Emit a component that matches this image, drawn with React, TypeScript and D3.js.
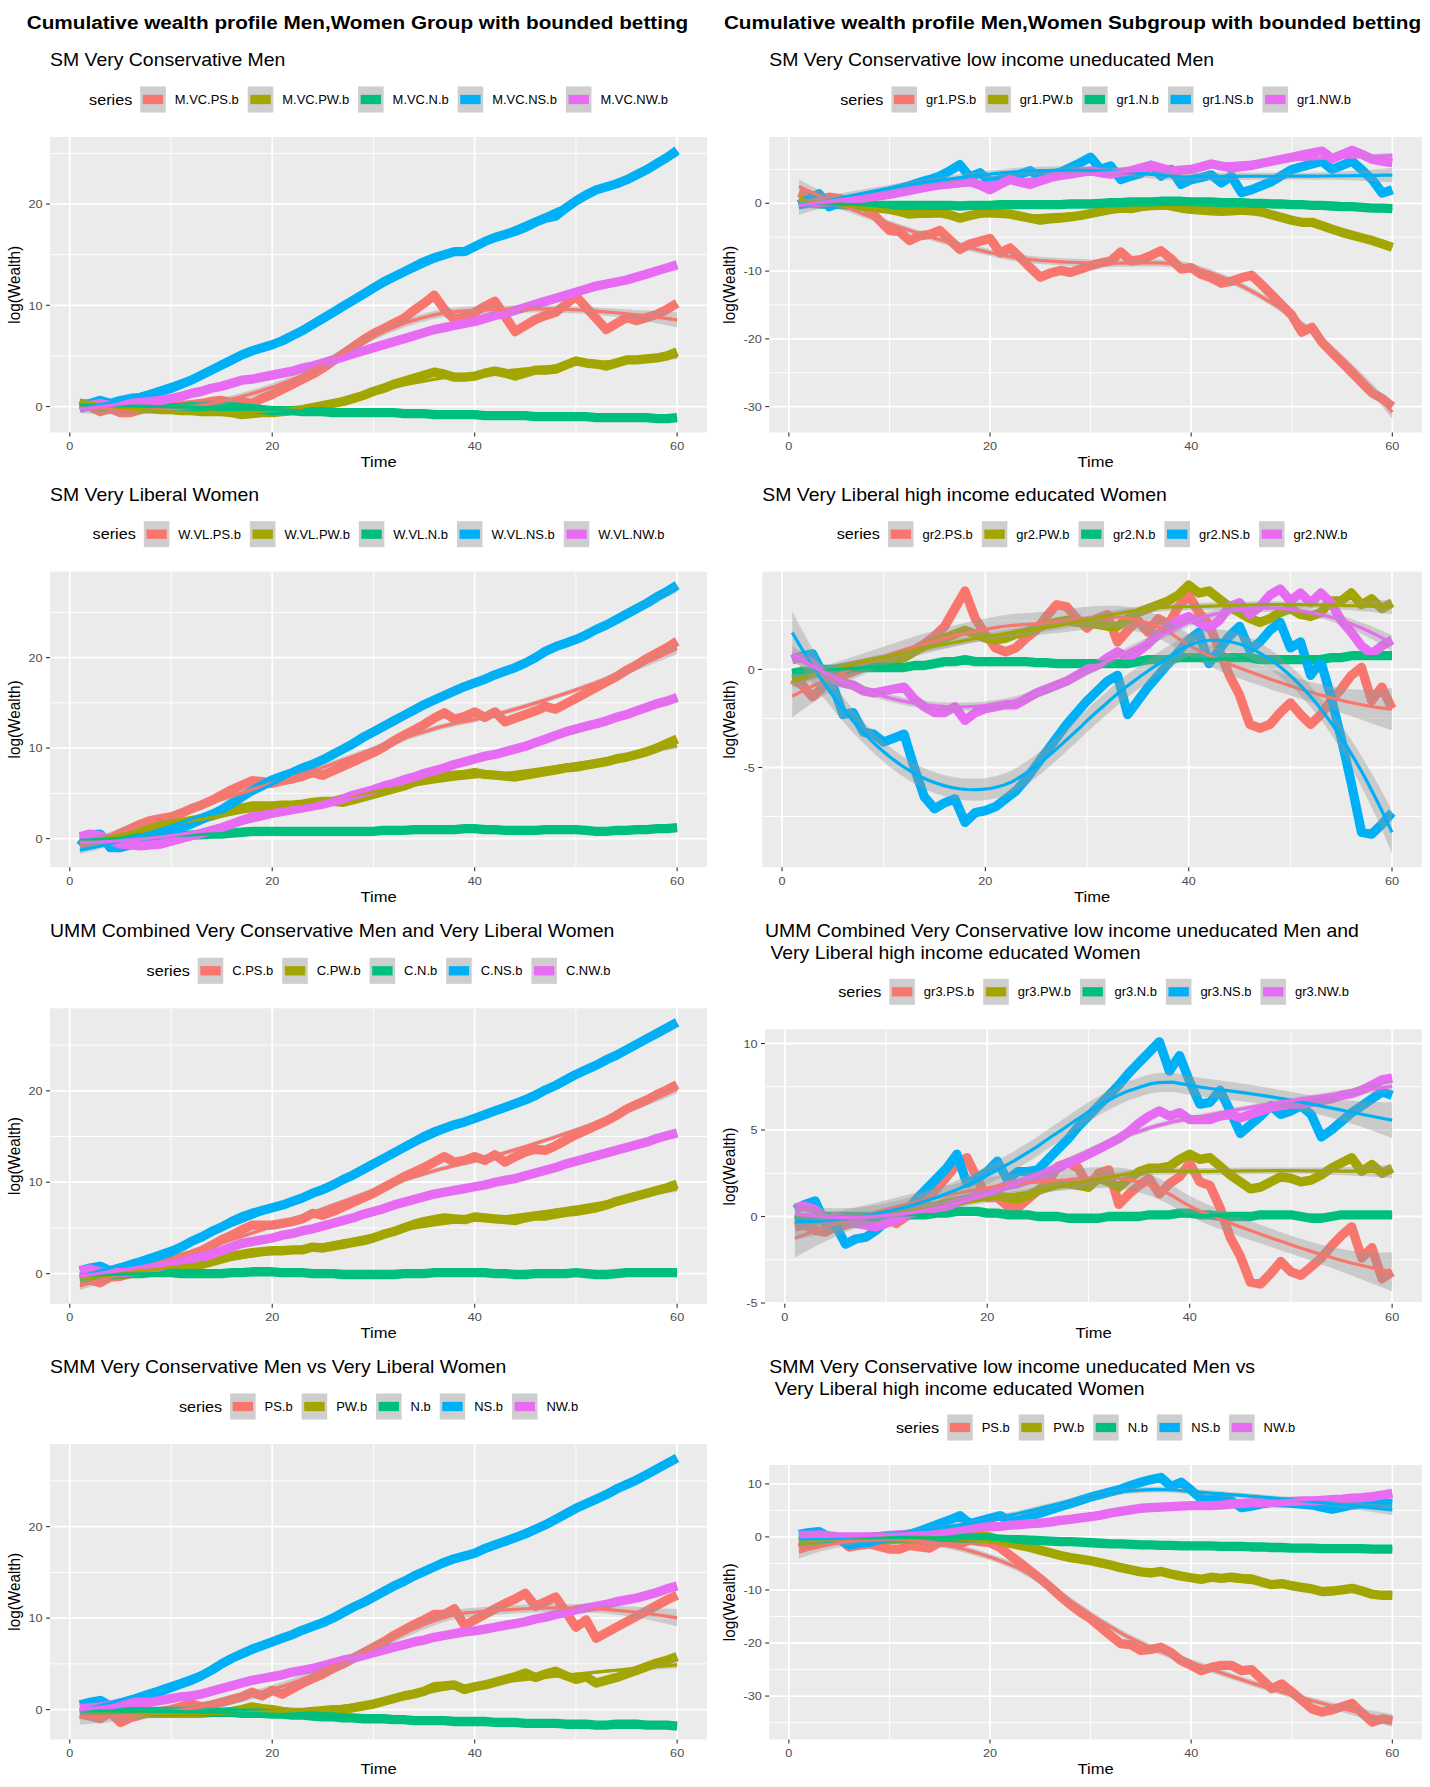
import { useEffect, useRef } from 'react';
import * as d3 from 'd3';

const W = 1430;
const H = 1787;
const FONT = '"Liberation Sans", Arial, Helvetica, sans-serif';
const SX = 1.08; // the picture is slightly stretched horizontally
const LINE_W = 9.3;

const mainTitles = [
  'Cumulative wealth profile Men,Women Group with bounded betting',
  'Cumulative wealth profile Men,Women Subgroup with bounded betting',
];

const time = d3.range(1, 61);
const seriesColors = ['#F8766D', '#A3A500', '#00BF7D', '#00B0F6', '#E76BF3'];
const xTicks = [0, 20, 40, 60];
const yTicksGrowth = [0, 10, 20];
const yTicksGr1 = [-30, -20, -10, 0];
const yTicksGr2 = [-5, 0];
const yTicksGr3 = [-5, 0, 5, 10];
const yTicksGr4 = [-30, -20, -10, 0, 10];

// SM Very Conservative Men
const mvcPS = [0.2, 0.0, -0.5, -0.2, -0.6, -0.6, -0.3, 0.0, 0.1, 0.0, 0.1, 0.2, 0.3, 0.5, 0.6, 0.4, 0.5, 0.3, 0.8, 1.2, 1.7, 2.2, 2.7, 3.2, 3.8, 4.5, 5.2, 5.9, 6.6, 7.2, 7.7, 8.2, 8.7, 9.5, 10.2, 11.0, 9.6, 8.6, 8.9, 9.3, 9.9, 10.4, 8.9, 7.4, 8.0, 8.6, 9.0, 9.3, 10.1, 10.9, 9.8, 8.7, 7.6, 8.2, 8.8, 8.5, 8.8, 9.1, 9.6, 10.2];
const mvcPW = [0.3, 0.2, 0.0, 0.0, -0.1, -0.1, -0.2, -0.2, -0.3, -0.3, -0.4, -0.4, -0.5, -0.5, -0.5, -0.6, -0.8, -0.7, -0.6, -0.6, -0.5, -0.4, -0.3, -0.1, 0.1, 0.3, 0.5, 0.8, 1.1, 1.5, 1.8, 2.2, 2.5, 2.8, 3.1, 3.4, 3.2, 2.9, 2.9, 3.0, 3.3, 3.5, 3.3, 3.0, 3.3, 3.6, 3.6, 3.7, 4.1, 4.5, 4.3, 4.2, 4.0, 4.3, 4.6, 4.6, 4.7, 4.8, 5.0, 5.4];
const mvcN = [0.2, 0.2, 0.1, 0.1, 0.0, 0.0, 0.0, -0.1, -0.1, -0.1, -0.1, 0.0, 0.0, 0.1, 0.0, 0.0, -0.1, -0.2, -0.3, -0.4, -0.4, -0.4, -0.5, -0.5, -0.5, -0.6, -0.6, -0.6, -0.6, -0.6, -0.6, -0.6, -0.7, -0.7, -0.7, -0.8, -0.8, -0.8, -0.8, -0.8, -0.9, -0.9, -0.9, -0.9, -0.9, -1.0, -1.0, -1.0, -1.0, -1.0, -1.0, -1.1, -1.1, -1.1, -1.1, -1.1, -1.1, -1.2, -1.2, -1.1];
const mvcNS = [0.0, 0.3, 0.6, 0.3, 0.6, 0.8, 0.9, 1.2, 1.5, 1.8, 2.2, 2.6, 3.1, 3.6, 4.1, 4.6, 5.1, 5.5, 5.8, 6.1, 6.5, 7.0, 7.5, 8.1, 8.7, 9.3, 9.9, 10.5, 11.1, 11.7, 12.3, 12.8, 13.3, 13.8, 14.3, 14.7, 15.0, 15.3, 15.3, 15.8, 16.3, 16.7, 17.0, 17.3, 17.7, 18.2, 18.6, 18.8, 19.6, 20.3, 20.9, 21.4, 21.7, 22.0, 22.4, 22.9, 23.4, 24.0, 24.6, 25.3];
const mvcNW = [-0.2, 0.1, 0.3, 0.1, 0.1, 0.3, 0.4, 0.5, 0.6, 0.8, 1.0, 1.3, 1.5, 1.8, 2.0, 2.3, 2.6, 2.7, 2.9, 3.1, 3.3, 3.5, 3.8, 4.0, 4.3, 4.6, 4.9, 5.2, 5.5, 5.8, 6.1, 6.4, 6.7, 7.0, 7.3, 7.6, 7.8, 8.0, 8.2, 8.4, 8.7, 9.0, 9.2, 9.5, 9.8, 10.1, 10.4, 10.7, 11.0, 11.3, 11.6, 11.9, 12.1, 12.3, 12.5, 12.8, 13.1, 13.4, 13.7, 14.0];

// SM Very Conservative low income uneducated Men
const gr1PS = [1.6, 1.0, 0.5, 0.9, 0.7, 0.3, 0.0, -1.0, -2.5, -4.0, -4.2, -5.5, -4.8, -4.6, -4.0, -5.4, -6.8, -6.0, -5.6, -5.2, -7.3, -6.6, -8.0, -9.5, -10.9, -10.3, -9.9, -10.2, -9.7, -9.2, -8.8, -8.5, -7.2, -8.5, -8.3, -7.7, -7.0, -8.2, -9.7, -9.5, -10.5, -11.0, -11.8, -11.5, -11.0, -10.6, -12.0, -13.5, -15.0, -16.5, -19.0, -18.3, -20.5, -22.0, -23.5, -25.0, -26.5, -28.0, -28.8, -30.0];
const gr1PW = [0.4, 0.2, 0.1, 0.0, -0.2, -0.3, -0.4, -0.5, -0.7, -0.9, -1.2, -1.6, -1.5, -1.5, -1.4, -1.7, -2.2, -1.8, -1.5, -1.3, -1.5, -1.6, -1.9, -2.2, -2.5, -2.3, -2.2, -2.0, -1.8, -1.5, -1.2, -0.9, -0.7, -0.8, -0.5, -0.3, -0.1, -0.4, -0.7, -0.9, -1.0, -1.1, -1.2, -1.1, -1.0, -1.1, -1.3, -1.7, -2.1, -2.5, -2.8, -2.8, -3.3, -3.8, -4.3, -4.7, -5.1, -5.5, -6.0, -6.5];
const gr1N = [0.0, 0.0, -0.1, -0.1, -0.1, -0.2, -0.2, -0.2, -0.3, -0.3, -0.3, -0.3, -0.3, -0.3, -0.3, -0.3, -0.4, -0.3, -0.3, -0.3, -0.2, -0.2, -0.2, -0.2, -0.2, -0.2, -0.2, -0.1, -0.1, -0.1, 0.0, 0.1, 0.1, 0.2, 0.2, 0.2, 0.3, 0.3, 0.3, 0.2, 0.2, 0.2, 0.1, 0.1, 0.1, 0.0, 0.0, -0.1, -0.1, -0.2, -0.2, -0.3, -0.3, -0.4, -0.5, -0.5, -0.6, -0.7, -0.7, -0.8];
const gr1NS = [-0.2, 0.6, 1.4, -0.5, 0.0, 0.4, 0.7, 1.1, 1.4, 1.8, 2.2, 2.6, 3.1, 3.5, 4.0, 4.8, 5.7, 3.9, 4.5, 3.2, 3.5, 3.8, 4.3, 4.8, 3.9, 4.2, 4.6, 5.3, 6.0, 6.8, 5.0, 5.5, 3.5, 4.0, 4.4, 5.6, 4.0, 5.0, 2.8, 3.5, 3.8, 4.2, 3.0, 4.0, 1.6, 2.0, 2.6, 3.2, 4.1, 5.0, 5.4, 5.8, 6.2, 5.0, 5.6, 6.2, 4.9, 3.5, 1.5, 2.0];
const gr1NW = [-0.2, 0.0, 0.1, 0.2, 0.3, 0.5, 0.7, 0.9, 1.1, 1.3, 1.6, 1.9, 2.2, 2.5, 2.8, 2.9, 3.1, 3.2, 2.7, 2.0, 2.8, 3.5, 3.1, 2.8, 3.3, 3.8, 4.1, 4.3, 4.6, 4.8, 4.5, 4.3, 4.6, 4.8, 5.2, 5.6, 5.2, 4.8, 4.9, 5.0, 5.4, 5.8, 5.5, 5.2, 5.4, 5.6, 5.9, 6.2, 6.5, 6.8, 7.1, 7.4, 7.7, 6.6, 7.2, 7.8, 7.2, 6.5, 6.2, 6.0];

// SM Very Liberal Women
const wvlPS = [-0.6, -0.5, -0.5, 0.0, 0.6, 1.1, 1.6, 2.0, 2.2, 2.4, 2.8, 3.3, 3.7, 4.2, 4.8, 5.4, 5.9, 6.4, 6.3, 6.1, 6.4, 6.6, 6.9, 7.3, 7.0, 7.5, 8.0, 8.5, 9.0, 9.5, 10.1, 10.8, 11.4, 12.0, 12.6, 13.3, 13.9, 13.2, 13.5, 14.0, 13.4, 14.0, 12.9, 13.3, 13.7, 14.1, 14.6, 14.3, 14.9, 15.5, 16.1, 16.7, 17.3, 17.9, 18.6, 19.2, 19.9, 20.5, 21.1, 21.8];
const wvlPW = [-0.3, -0.2, -0.2, -0.1, 0.0, 0.4, 0.8, 1.2, 1.4, 1.6, 1.8, 2.0, 2.2, 2.5, 2.8, 3.1, 3.4, 3.6, 3.6, 3.6, 3.7, 3.7, 3.8, 4.0, 4.1, 4.1, 4.0, 4.3, 4.6, 4.9, 5.2, 5.5, 5.8, 6.2, 6.6, 6.8, 6.9, 7.0, 7.1, 7.3, 7.1, 7.0, 6.9, 6.8, 7.0, 7.2, 7.4, 7.6, 7.8, 7.9, 8.1, 8.3, 8.5, 8.8, 9.0, 9.3, 9.6, 10.0, 10.5, 11.0];
const wvlN = [-0.2, -0.1, -0.1, 0.0, 0.0, 0.1, 0.1, 0.2, 0.2, 0.3, 0.3, 0.4, 0.4, 0.5, 0.5, 0.6, 0.7, 0.8, 0.8, 0.8, 0.8, 0.8, 0.8, 0.8, 0.8, 0.8, 0.8, 0.8, 0.8, 0.8, 0.9, 0.9, 0.9, 1.0, 1.0, 1.0, 1.0, 1.0, 1.1, 1.1, 1.0, 1.0, 0.9, 0.9, 0.9, 0.9, 1.0, 1.0, 1.0, 1.0, 0.9, 0.8, 0.8, 0.9, 0.9, 1.0, 1.0, 1.1, 1.1, 1.2];
const wvlNS = [-0.8, 0.4, 0.5, -1.0, -1.0, -0.7, -0.3, 0.1, 0.4, 0.8, 1.2, 1.6, 2.1, 2.6, 3.2, 3.9, 4.6, 5.3, 5.9, 6.5, 6.9, 7.3, 7.8, 8.2, 8.7, 9.3, 9.9, 10.5, 11.2, 11.8, 12.4, 13.0, 13.6, 14.2, 14.8, 15.3, 15.8, 16.3, 16.8, 17.2, 17.6, 18.1, 18.5, 18.9, 19.4, 20.0, 20.7, 21.2, 21.6, 22.0, 22.5, 23.1, 23.6, 24.2, 24.8, 25.4, 26.0, 26.7, 27.3, 28.0];
const wvlNW = [0.2, 0.5, 0.3, -0.2, -0.6, -0.7, -0.8, -0.7, -0.6, -0.3, 0.0, 0.3, 0.6, 0.9, 1.2, 1.6, 2.0, 2.4, 2.6, 2.8, 3.0, 3.2, 3.4, 3.6, 3.8, 4.1, 4.4, 4.8, 5.1, 5.4, 5.8, 6.1, 6.5, 6.8, 7.2, 7.5, 7.8, 8.2, 8.5, 8.8, 9.1, 9.3, 9.6, 9.9, 10.2, 10.6, 11.0, 11.4, 11.8, 12.1, 12.4, 12.7, 13.0, 13.4, 13.7, 14.1, 14.5, 14.9, 15.2, 15.6];

// SM Very Liberal high income educated Women
const gr2PS = [-0.5, -0.8, -1.4, -0.9, -0.5, -0.3, -0.1, 0.1, 0.2, 0.3, 0.5, 0.7, 1.0, 1.3, 1.7, 2.2, 3.1, 4.0, 2.6, 1.8, 1.1, 0.9, 1.1, 1.6, 2.0, 2.7, 3.3, 3.2, 2.6, 2.1, 2.6, 2.8, 1.4, 2.0, 2.5, 1.9, 2.6, 2.3, 3.2, 3.8, 2.9, 2.3, 1.0, -0.3, -1.3, -2.8, -3.0, -2.8, -2.2, -1.7, -2.3, -2.8, -2.3, -1.6, -1.0, -0.3, 0.1, -1.6, -0.9, -2.0];
const gr2PW = [-0.5, -0.4, -0.2, -0.1, 0.0, 0.1, 0.2, 0.3, 0.4, 0.5, 0.5, 0.6, 0.9, 1.2, 1.4, 1.6, 1.8, 2.0, 1.8, 1.6, 1.5, 1.6, 1.8, 1.9, 2.1, 2.3, 2.4, 2.5, 2.4, 2.4, 2.3, 2.2, 2.2, 2.6, 2.9, 3.1, 3.3, 3.5, 3.8, 4.3, 3.9, 4.0, 3.6, 3.2, 2.9, 2.6, 2.4, 2.6, 2.9, 3.1, 2.8, 2.7, 2.9, 3.5, 3.5, 3.9, 3.3, 3.6, 3.1, 3.4];
const gr2N = [-0.2, -0.1, -0.1, 0.0, 0.0, 0.0, 0.1, 0.1, 0.1, 0.1, 0.1, 0.1, 0.2, 0.2, 0.3, 0.4, 0.4, 0.5, 0.4, 0.4, 0.4, 0.4, 0.4, 0.4, 0.35, 0.35, 0.3, 0.3, 0.3, 0.3, 0.3, 0.3, 0.3, 0.3, 0.4, 0.5, 0.5, 0.5, 0.6, 0.6, 0.6, 0.6, 0.6, 0.6, 0.6, 0.6, 0.5, 0.5, 0.5, 0.5, 0.5, 0.5, 0.5, 0.6, 0.6, 0.7, 0.7, 0.7, 0.7, 0.7];
const gr2NS = [0.5, 0.7, 0.8, -0.2, -0.8, -2.3, -2.2, -3.2, -3.3, -3.7, -3.5, -3.3, -5.0, -6.5, -7.1, -6.8, -6.6, -7.8, -7.3, -7.2, -7.0, -6.6, -6.2, -5.6, -4.9, -4.2, -3.5, -2.8, -2.2, -1.6, -1.1, -0.6, -0.3, -2.3, -1.6, -0.9, -0.3, 0.3, 0.9, 1.5, 1.9, 0.3, 1.0, 1.7, 2.2, 1.0, 1.4, 2.0, 2.4, 1.1, 1.4, -0.3, 0.4, -1.4, -3.5, -5.8, -8.3, -8.4, -7.9, -7.3];
const gr2NW = [0.5, 0.6, 0.3, -0.2, -0.5, -0.7, -0.8, -1.1, -1.2, -1.1, -1.0, -0.9, -1.5, -1.9, -2.2, -2.2, -1.9, -2.6, -2.2, -2.0, -1.9, -1.8, -1.8, -1.5, -1.2, -1.0, -0.8, -0.6, -0.3, 0.0, 0.2, 0.6, 0.9, 0.6, 0.9, 1.3, 1.8, 2.2, 2.5, 2.7, 2.4, 2.1, 2.5, 3.2, 3.4, 2.8, 3.2, 3.8, 4.1, 3.5, 3.9, 3.4, 3.9, 3.4, 2.5, 1.9, 1.2, 0.8, 1.2, 1.5];

// UMM Combined Very Conservative Men and Very Liberal Women
const cPS = [-0.8, -0.7, -1.0, -0.4, -0.3, 0.0, 0.4, 0.7, 1.0, 1.4, 1.8, 2.1, 2.5, 3.1, 3.7, 4.2, 4.8, 5.3, 5.3, 5.3, 5.5, 5.7, 6.0, 6.6, 6.4, 6.8, 7.3, 7.8, 8.3, 8.8, 9.4, 10.0, 10.6, 11.1, 11.6, 12.2, 12.8, 12.2, 12.4, 12.8, 12.4, 13.0, 12.2, 12.8, 13.3, 13.6, 13.5, 14.0, 14.6, 15.2, 15.7, 16.2, 16.7, 17.3, 18.0, 18.5, 19.0, 19.6, 20.1, 20.7];
const cPW = [-0.5, -0.4, -0.3, -0.2, -0.1, 0.0, 0.2, 0.3, 0.5, 0.6, 0.7, 0.9, 1.0, 1.3, 1.6, 1.9, 2.1, 2.3, 2.4, 2.5, 2.5, 2.6, 2.6, 2.9, 2.8, 3.0, 3.2, 3.4, 3.6, 3.9, 4.3, 4.6, 5.0, 5.4, 5.7, 5.9, 6.1, 6.0, 5.9, 6.2, 6.1, 6.0, 5.9, 5.8, 6.1, 6.3, 6.3, 6.5, 6.7, 6.8, 7.0, 7.2, 7.5, 7.9, 8.2, 8.5, 8.8, 9.1, 9.4, 9.8];
const cN = [-0.3, -0.2, -0.2, -0.1, 0.0, 0.0, 0.0, 0.1, 0.1, 0.1, 0.0, 0.0, 0.0, 0.0, 0.0, 0.1, 0.1, 0.2, 0.2, 0.2, 0.1, 0.1, 0.1, 0.0, 0.0, 0.0, -0.1, -0.1, -0.1, -0.1, -0.1, -0.1, 0.0, 0.0, 0.0, 0.1, 0.1, 0.1, 0.1, 0.1, 0.1, 0.0, 0.0, -0.1, -0.1, 0.0, 0.0, 0.0, 0.0, 0.1, 0.0, -0.1, -0.1, 0.0, 0.1, 0.1, 0.1, 0.1, 0.1, 0.1];
const cNS = [0.3, 0.6, 0.8, 0.3, 0.6, 0.8, 1.1, 1.5, 1.9, 2.4, 2.9, 3.5, 4.0, 4.6, 5.1, 5.7, 6.2, 6.6, 6.9, 7.2, 7.5, 7.9, 8.3, 8.8, 9.2, 9.7, 10.3, 10.8, 11.4, 12.0, 12.6, 13.2, 13.8, 14.4, 15.0, 15.5, 15.9, 16.3, 16.6, 17.0, 17.4, 17.8, 18.2, 18.6, 19.0, 19.5, 20.1, 20.6, 21.2, 21.8, 22.3, 22.8, 23.4, 23.9, 24.5, 25.1, 25.7, 26.3, 26.9, 27.5];
const cNW = [0.3, 0.5, 0.2, 0.1, 0.1, 0.2, 0.3, 0.5, 0.8, 1.1, 1.3, 1.6, 1.8, 2.1, 2.5, 2.9, 3.3, 3.5, 3.7, 3.9, 4.2, 4.4, 4.7, 4.9, 5.2, 5.5, 5.8, 6.1, 6.5, 6.8, 7.1, 7.5, 7.8, 8.1, 8.4, 8.7, 8.9, 9.1, 9.3, 9.5, 9.7, 10.0, 10.2, 10.4, 10.7, 11.0, 11.3, 11.6, 12.0, 12.3, 12.6, 12.9, 13.2, 13.5, 13.8, 14.1, 14.4, 14.8, 15.1, 15.4];

// UMM Combined subgroups
const gr3PS = [-0.6, -0.5, -0.8, -0.9, -0.6, -0.5, -0.3, -0.2, -0.1, -0.1, -0.4, 0.0, 0.5, 1.0, 1.6, 2.3, 3.0, 3.4, 2.2, 1.1, 1.1, 0.6, 0.5, 1.0, 1.5, 2.0, 2.9, 3.1, 2.8, 1.7, 2.5, 2.7, 0.7, 1.3, 1.8, 2.2, 1.3, 1.9, 2.3, 3.1, 2.0, 1.8, 0.5, -1.2, -2.3, -3.8, -3.9, -3.3, -2.6, -3.2, -3.4, -2.9, -2.4, -1.7, -1.1, -0.6, -2.4, -1.8, -3.6, -3.2];
const gr3PW = [-0.1, -0.1, -0.2, -0.2, -0.2, -0.2, -0.1, -0.1, -0.1, -0.1, 0.0, 0.1, 0.3, 0.5, 0.6, 0.8, 0.9, 1.0, 1.2, 1.3, 1.2, 1.1, 1.0, 1.2, 1.5, 1.7, 1.9, 1.9, 1.8, 1.7, 2.2, 2.0, 1.7, 2.2, 2.6, 2.8, 2.8, 2.9, 3.3, 3.6, 3.3, 3.4, 2.9, 2.4, 2.0, 1.6, 1.7, 2.0, 2.3, 2.2, 2.0, 2.1, 2.4, 2.8, 3.1, 3.4, 2.6, 3.0, 2.5, 2.8];
const gr3N = [-0.2, -0.1, -0.1, 0.0, 0.0, 0.0, 0.0, 0.0, 0.0, 0.0, 0.0, 0.1, 0.1, 0.1, 0.2, 0.2, 0.3, 0.3, 0.3, 0.2, 0.2, 0.1, 0.1, 0.1, 0.0, 0.0, 0.0, -0.1, -0.1, -0.1, -0.1, 0.0, 0.0, 0.0, 0.0, 0.1, 0.1, 0.1, 0.2, 0.2, 0.1, 0.1, 0.0, 0.0, 0.0, 0.0, 0.1, 0.1, 0.1, 0.1, 0.0, -0.1, -0.1, 0.0, 0.1, 0.1, 0.1, 0.1, 0.1, 0.1];
const gr3NS = [0.4, 0.7, 0.9, -0.4, -0.5, -1.6, -1.3, -1.2, -0.8, -0.3, 0.0, 0.3, 1.0, 1.6, 2.2, 2.8, 3.6, 1.9, 2.2, 2.6, 3.2, 2.1, 2.6, 2.6, 2.7, 3.3, 3.9, 4.5, 5.2, 5.8, 6.4, 7.0, 7.6, 8.3, 8.9, 9.5, 10.1, 8.4, 9.3, 7.8, 6.5, 6.6, 7.3, 6.1, 4.8, 5.3, 5.8, 6.4, 5.9, 6.1, 6.4, 5.9, 4.6, 5.0, 5.5, 6.0, 6.4, 6.8, 7.2, 7.0];
const gr3NW = [0.5, 0.6, 0.4, -0.2, 0.0, -0.2, -0.4, -0.5, -0.6, -0.4, -0.2, 0.1, 0.3, 0.4, 0.5, 0.6, 0.8, 1.0, 1.2, 1.4, 1.6, 1.8, 1.9, 2.1, 2.3, 2.5, 2.8, 3.1, 3.3, 3.6, 3.9, 4.2, 4.5, 4.9, 5.4, 5.8, 6.1, 5.8, 6.0, 5.6, 5.6, 5.6, 5.8, 5.9, 5.7, 5.9, 6.1, 6.3, 6.4, 6.5, 6.5, 6.6, 6.7, 6.8, 7.0, 7.1, 7.3, 7.6, 7.9, 8.0];

// SMM Very Conservative Men vs Very Liberal Women
const smmPS = [-0.5, -0.7, -1.0, -0.3, -1.4, -0.9, -0.6, -0.3, -0.2, 0.0, 0.3, 0.6, 0.3, 0.5, 0.8, 1.1, 1.4, 1.9, 1.5, 2.1, 1.7, 2.3, 2.9, 3.4, 3.9, 4.5, 5.0, 5.6, 6.2, 6.8, 7.4, 8.1, 8.7, 9.3, 9.8, 10.4, 10.4, 11.0, 9.2, 9.8, 10.4, 11.0, 11.6, 12.1, 12.7, 11.3, 11.8, 12.3, 10.7, 9.0, 9.8, 7.8, 8.4, 9.0, 9.6, 10.2, 10.8, 11.4, 12.0, 12.5];
const smmPW = [-0.3, -0.3, -0.2, -0.2, -0.2, -0.3, -0.3, -0.4, -0.4, -0.4, -0.4, -0.4, -0.4, -0.3, -0.3, -0.2, 0.0, 0.3, 0.1, 0.0, -0.2, -0.3, -0.3, -0.2, -0.1, 0.0, 0.0, 0.2, 0.4, 0.6, 0.9, 1.2, 1.5, 1.7, 2.0, 2.5, 2.6, 2.7, 2.2, 2.5, 2.7, 3.0, 3.3, 3.6, 4.0, 3.5, 3.9, 4.2, 3.7, 3.3, 3.6, 2.9, 3.2, 3.5, 3.9, 4.3, 4.7, 5.1, 5.4, 5.8];
const smmN = [-0.3, -0.2, -0.2, -0.1, -0.1, -0.1, -0.1, -0.2, -0.2, -0.2, -0.2, -0.2, -0.2, -0.3, -0.3, -0.3, -0.4, -0.4, -0.4, -0.5, -0.5, -0.6, -0.6, -0.7, -0.8, -0.8, -0.9, -0.9, -1.0, -1.0, -1.0, -1.1, -1.1, -1.2, -1.2, -1.2, -1.2, -1.3, -1.3, -1.3, -1.3, -1.4, -1.4, -1.4, -1.5, -1.5, -1.5, -1.5, -1.6, -1.6, -1.6, -1.7, -1.7, -1.6, -1.6, -1.6, -1.7, -1.7, -1.7, -1.8];
const smmNS = [0.5, 0.8, 1.0, 0.4, 0.7, 1.0, 1.3, 1.7, 2.0, 2.4, 2.8, 3.2, 3.7, 4.3, 5.0, 5.6, 6.1, 6.6, 7.0, 7.4, 7.8, 8.2, 8.7, 9.1, 9.5, 10.0, 10.6, 11.2, 11.7, 12.3, 12.9, 13.5, 14.0, 14.6, 15.1, 15.6, 16.1, 16.5, 16.8, 17.1, 17.6, 18.0, 18.4, 18.8, 19.2, 19.7, 20.2, 20.8, 21.4, 22.0, 22.5, 23.0, 23.5, 24.1, 24.6, 25.1, 25.7, 26.3, 26.9, 27.5];
const smmNW = [0.1, 0.2, 0.3, 0.5, 0.7, 0.8, 0.8, 0.8, 1.0, 1.2, 1.4, 1.5, 1.7, 2.0, 2.3, 2.6, 2.9, 3.2, 3.4, 3.6, 3.8, 4.1, 4.3, 4.5, 4.8, 5.1, 5.4, 5.6, 5.9, 6.2, 6.5, 6.8, 7.1, 7.4, 7.6, 7.9, 8.1, 8.3, 8.5, 8.6, 8.8, 9.0, 9.2, 9.4, 9.6, 9.9, 10.1, 10.4, 10.6, 10.9, 11.1, 11.3, 11.5, 11.8, 12.0, 12.2, 12.5, 12.8, 13.2, 13.5];

// SMM subgroups
const smmsPS = [-2.1, -1.5, -1.0, -0.6, -0.3, -1.9, -1.6, -1.3, -1.8, -2.3, -2.3, -1.6, -1.9, -2.1, -1.0, -1.1, -1.3, -0.6, -0.9, -1.1, -2.0, -3.5, -4.9, -6.4, -7.9, -9.5, -11.2, -12.8, -14.2, -15.4, -17.0, -18.6, -20.1, -20.3, -21.4, -21.2, -20.8, -21.8, -23.3, -24.2, -25.2, -24.6, -24.2, -24.2, -25.2, -25.0, -26.8, -28.6, -27.7, -29.2, -30.8, -32.4, -33.0, -32.6, -32.0, -31.4, -33.2, -34.9, -34.3, -34.6];
const smmsPW = [-0.8, -0.7, -0.6, -0.4, -0.3, -0.3, -0.4, -0.5, -0.5, -0.5, -0.4, -0.4, -0.3, -0.3, -0.2, 0.0, 0.2, 0.4, 0.2, 0.0, -0.6, -1.2, -1.6, -2.0, -2.5, -3.0, -3.5, -3.9, -4.2, -4.5, -4.9, -5.3, -5.8, -6.2, -6.6, -6.8, -6.5, -7.0, -7.4, -7.7, -8.0, -7.6, -7.8, -7.6, -7.8, -7.9, -8.5, -9.0, -8.8, -9.2, -9.5, -9.8, -10.3, -10.2, -10.0, -9.7, -10.2, -10.8, -11.0, -11.0];
const smmsN = [-0.5, -0.4, -0.3, -0.3, -0.2, -0.2, -0.2, -0.2, -0.2, -0.2, -0.2, -0.1, -0.1, -0.1, -0.1, -0.1, -0.2, -0.2, -0.2, -0.3, -0.4, -0.5, -0.5, -0.6, -0.7, -0.8, -0.9, -0.9, -1.0, -1.1, -1.2, -1.3, -1.3, -1.4, -1.5, -1.5, -1.6, -1.6, -1.7, -1.7, -1.7, -1.7, -1.8, -1.8, -1.8, -1.9, -1.9, -2.0, -2.0, -2.1, -2.1, -2.1, -2.2, -2.2, -2.2, -2.2, -2.2, -2.3, -2.3, -2.3];
const smmsNS = [0.5, 0.8, 1.0, 0.0, -0.5, -1.5, -1.2, -1.0, -0.5, 0.0, 0.2, 0.5, 1.1, 1.8, 2.5, 3.2, 4.0, 2.5, 3.0, 3.5, 4.0, 3.0, 3.2, 3.9, 4.5, 5.1, 5.7, 6.3, 6.9, 7.5, 8.0, 8.5, 9.0, 9.7, 10.3, 10.8, 11.2, 9.5, 10.3, 8.8, 7.2, 7.0, 7.6, 6.8, 5.5, 5.8, 6.2, 6.5, 6.4, 6.3, 6.2, 6.0, 5.6, 5.2, 5.6, 6.0, 6.3, 6.5, 6.4, 6.3];
const smmsNW = [0.3, 0.3, 0.4, 0.2, 0.0, 0.0, 0.0, 0.0, 0.1, 0.3, 0.4, 0.5, 0.6, 0.8, 1.0, 1.2, 1.4, 1.6, 1.8, 1.9, 2.0, 2.2, 2.3, 2.5, 2.6, 2.8, 3.1, 3.3, 3.6, 3.8, 4.1, 4.5, 4.8, 5.1, 5.4, 5.5, 5.6, 5.7, 5.8, 5.9, 5.9, 5.9, 6.0, 6.2, 6.3, 6.4, 6.4, 6.5, 6.6, 6.7, 6.8, 6.8, 6.9, 7.0, 7.1, 7.3, 7.4, 7.6, 7.9, 8.2];

const panels = [
  { col: 0, row: 0, title: ['SM Very Conservative Men'], labels: ['M.VC.PS.b', 'M.VC.PW.b', 'M.VC.N.b', 'M.VC.NS.b', 'M.VC.NW.b'], series: [mvcPS, mvcPW, mvcN, mvcNS, mvcNW], yTicks: yTicksGrowth },
  { col: 1, row: 0, title: ['SM Very Conservative low income uneducated Men'], labels: ['gr1.PS.b', 'gr1.PW.b', 'gr1.N.b', 'gr1.NS.b', 'gr1.NW.b'], series: [gr1PS, gr1PW, gr1N, gr1NS, gr1NW], yTicks: yTicksGr1 },
  { col: 0, row: 1, title: ['SM Very Liberal Women'], labels: ['W.VL.PS.b', 'W.VL.PW.b', 'W.VL.N.b', 'W.VL.NS.b', 'W.VL.NW.b'], series: [wvlPS, wvlPW, wvlN, wvlNS, wvlNW], yTicks: yTicksGrowth },
  { col: 1, row: 1, title: ['SM Very Liberal high income educated Women'], labels: ['gr2.PS.b', 'gr2.PW.b', 'gr2.N.b', 'gr2.NS.b', 'gr2.NW.b'], series: [gr2PS, gr2PW, gr2N, gr2NS, gr2NW], yTicks: yTicksGr2 },
  { col: 0, row: 2, title: ['UMM Combined Very Conservative Men and Very Liberal Women'], labels: ['C.PS.b', 'C.PW.b', 'C.N.b', 'C.NS.b', 'C.NW.b'], series: [cPS, cPW, cN, cNS, cNW], yTicks: yTicksGrowth },
  { col: 1, row: 2, title: ['UMM Combined Very Conservative low income uneducated Men and', ' Very Liberal high income educated Women'], labels: ['gr3.PS.b', 'gr3.PW.b', 'gr3.N.b', 'gr3.NS.b', 'gr3.NW.b'], series: [gr3PS, gr3PW, gr3N, gr3NS, gr3NW], yTicks: yTicksGr3 },
  { col: 0, row: 3, title: ['SMM Very Conservative Men vs Very Liberal Women'], labels: ['PS.b', 'PW.b', 'N.b', 'NS.b', 'NW.b'], series: [smmPS, smmPW, smmN, smmNS, smmNW], yTicks: yTicksGrowth },
  { col: 1, row: 3, title: ['SMM Very Conservative low income uneducated Men vs', ' Very Liberal high income educated Women'], labels: ['PS.b', 'PW.b', 'N.b', 'NS.b', 'NW.b'], series: [smmsPS, smmsPW, smmsN, smmsNS, smmsNW], yTicks: yTicksGr4 },
];

const rowTops = [137, 571.7, 1008.3, 1444];

// local quadratic regression (loess, span 0.75) with a standard-error band, like geom_smooth
function loess(xs: number[], ys: number[], grid: number[], span = 0.75) {
  const n = xs.length;
  const q = Math.floor(n * span);
  const rowAt = (x0: number) => {
    const d = xs.map((x) => Math.abs(x - x0));
    const h = d.slice().sort((a, b) => a - b)[q - 1] * 1.0001;
    const w = d.map((di) => (di < h ? Math.pow(1 - Math.pow(di / h, 3), 3) : 0));
    const u = xs.map((x) => (x - x0) / h);
    let s0 = 0, s1 = 0, s2 = 0, s3 = 0, s4 = 0;
    w.forEach((wi, i) => {
      const ui = u[i];
      s0 += wi; s1 += wi * ui; s2 += wi * ui * ui; s3 += wi * ui ** 3; s4 += wi * ui ** 4;
    });
    const det = s0 * (s2 * s4 - s3 * s3) - s1 * (s1 * s4 - s3 * s2) + s2 * (s1 * s3 - s2 * s2);
    const a = (s2 * s4 - s3 * s3) / det;
    const b = -(s1 * s4 - s2 * s3) / det;
    const c = (s1 * s3 - s2 * s2) / det;
    return w.map((wi, i) => wi * (a + b * u[i] + c * u[i] * u[i]));
  };
  const L = xs.map(rowAt);
  const fitted = L.map((l) => d3.sum(l, (li, i) => li * ys[i]));
  const rss = d3.sum(ys, (y, i) => (y - fitted[i]) ** 2);
  let trL = 0, trLL = 0;
  L.forEach((l, j) => { trL += l[j]; trLL += d3.sum(l, (v) => v * v); });
  const sigma = Math.sqrt(rss / (n - 2 * trL + trLL));
  return grid.map((x0) => {
    const l = rowAt(x0);
    const f = d3.sum(l, (li, i) => li * ys[i]);
    const se = sigma * Math.sqrt(d3.sum(l, (v) => v * v));
    return { x: x0, y: f, lo: f - 2.0 * se, hi: f + 2.0 * se };
  });
}

const App = () => {
  const svgRef = useRef<SVGSVGElement>(null);

  useEffect(() => {
    if (!svgRef.current) return;
    const svg = d3.select(svgRef.current);
    svg.selectAll('*').remove();
    svg.append('rect').attr('width', W).attr('height', H).attr('fill', '#ffffff');

    const txt = (g: any, x: number, y: number, s: string, size: number, opt: any = {}) =>
      g
        .append('text')
        .attr('transform', `translate(${x},${y}) scale(${SX},1)${opt.rotate ? ' rotate(-90)' : ''}`)
        .attr('text-anchor', opt.anchor || 'start')
        .attr('font-family', FONT)
        .attr('font-size', size)
        .attr('font-weight', opt.weight || 'normal')
        .attr('fill', opt.fill || '#000000')
        .style('white-space', 'pre')
        .text(s);
    const widthOf = (t: any) => (t.node() as SVGTextElement).getComputedTextLength() * SX;

    mainTitles.forEach((t, i) => txt(svg, 357.5 + i * 715, 29, t, 19.2, { anchor: 'middle', weight: 'bold' }));

    const grid = d3.range(80).map((i) => 1 + (i * 59) / 79);

    panels.forEach((p, pi) => {
      const colX = p.col * 715;
      const extra = (p.title.length - 1) * 21;
      const top = rowTops[p.row] + extra;
      const bottom = rowTops[p.row] + 295.5;
      const g = svg.append('g');

      // y tick labels first, to know how wide the axis is
      const tickG = g.append('g');
      const tickTexts = p.yTicks.map((v) => txt(tickG, 0, 0, String(v), 11.7, { anchor: 'end', fill: '#4D4D4D' }));
      const maxW = d3.max(tickTexts, (t) => widthOf(t)) || 0;
      const left = colX + 36 + maxW;
      const right = colX + 707;

      const x = d3.scaleLinear().domain([1 - 2.95, 60 + 2.95]).range([left, right]);
      const smooths = p.series.map((s) => loess(time, s, grid));
      const all = [...p.series.flat(), ...smooths.flatMap((sm) => sm.flatMap((d) => [d.lo, d.hi]))];
      const [mn, mx] = d3.extent(all) as [number, number];
      const pad = (mx - mn) * 0.05;
      const y = d3.scaleLinear().domain([mn - pad, mx + pad]).range([bottom, top]);

      // panel + grid
      g.append('rect').attr('x', left).attr('y', top).attr('width', right - left).attr('height', bottom - top).attr('fill', '#EBEBEB');
      const ystep = p.yTicks[1] - p.yTicks[0];
      const yMinor = [p.yTicks[0] - ystep / 2, ...p.yTicks.map((v) => v + ystep / 2)].filter((v) => v > y.domain()[0] && v < y.domain()[1]);
      const xMinor = [10, 30, 50];
      yMinor.forEach((v) => g.append('line').attr('x1', left).attr('x2', right).attr('y1', y(v)).attr('y2', y(v)).attr('stroke', '#fff').attr('stroke-width', 0.9));
      xMinor.forEach((v) => g.append('line').attr('x1', x(v)).attr('x2', x(v)).attr('y1', top).attr('y2', bottom).attr('stroke', '#fff').attr('stroke-width', 0.9));
      p.yTicks.forEach((v) => g.append('line').attr('x1', left).attr('x2', right).attr('y1', y(v)).attr('y2', y(v)).attr('stroke', '#fff').attr('stroke-width', 1.8));
      xTicks.forEach((v) => g.append('line').attr('x1', x(v)).attr('x2', x(v)).attr('y1', top).attr('y2', bottom).attr('stroke', '#fff').attr('stroke-width', 1.8));

      const clipId = `clip${pi}`;
      g.append('clipPath').attr('id', clipId).append('rect').attr('x', left).attr('y', top).attr('width', right - left).attr('height', bottom - top);
      const plot = g.append('g').attr('clip-path', `url(#${clipId})`);

      const line = d3.line<number>().x((_, i) => x(time[i])).y((d) => y(d));
      p.series.forEach((s, si) => {
        plot.append('path').attr('d', line(s)).attr('fill', 'none').attr('stroke', seriesColors[si])
          .attr('stroke-width', LINE_W).attr('stroke-linejoin', 'round').attr('stroke-linecap', 'butt');
      });
      const area = d3.area<any>().x((d) => x(d.x)).y0((d) => y(d.lo)).y1((d) => y(d.hi));
      const sLine = d3.line<any>().x((d) => x(d.x)).y((d) => y(d.y));
      smooths.forEach((sm, si) => {
        plot.append('path').attr('d', area(sm)).attr('fill', '#999999').attr('fill-opacity', 0.4);
        plot.append('path').attr('d', sLine(sm)).attr('fill', 'none').attr('stroke', seriesColors[si]).attr('stroke-width', 3.2);
      });

      // axes
      p.yTicks.forEach((v, i) => {
        g.append('line').attr('x1', left - 4).attr('x2', left).attr('y1', y(v)).attr('y2', y(v)).attr('stroke', '#333333').attr('stroke-width', 1.1);
        tickTexts[i].attr('transform', `translate(${left - 7.5},${y(v) + 4.2}) scale(${SX},1)`);
      });
      xTicks.forEach((v) => {
        g.append('line').attr('x1', x(v)).attr('x2', x(v)).attr('y1', bottom).attr('y2', bottom + 4).attr('stroke', '#333333').attr('stroke-width', 1.1);
        txt(g, x(v), bottom + 17.5, String(v), 11.7, { anchor: 'middle', fill: '#4D4D4D' });
      });
      txt(g, (left + right) / 2, bottom + 34.5, 'Time', 15.3, { anchor: 'middle' });
      txt(g, colX + 20, (top + bottom) / 2, 'log(Wealth)', 15.3, { anchor: 'middle', rotate: true });

      // subtitle
      p.title.forEach((t, i) => txt(g, left, rowTops[p.row] - 71 + i * 21.5, t, 18));

      // legend
      const ly = top - 37.5;
      const lg = g.append('g');
      const head = txt(lg, 0, ly + 5, 'series', 15);
      let cx = widthOf(head) + 8;
      p.labels.forEach((lab, si) => {
        lg.append('rect').attr('x', cx).attr('y', ly - 13).attr('width', 25.5).attr('height', 26).attr('fill', '#F2F2F2');
        lg.append('rect').attr('x', cx).attr('y', ly - 13).attr('width', 25.5).attr('height', 26).attr('fill', '#999999').attr('fill-opacity', 0.4);
        lg.append('line').attr('x1', cx + 2.55).attr('x2', cx + 22.95).attr('y1', ly).attr('y2', ly).attr('stroke', seriesColors[si]).attr('stroke-width', LINE_W);
        const t = txt(lg, cx + 25.5 + 9, ly + 4.3, lab, 12);
        cx += 25.5 + 9 + widthOf(t) + 9;
      });
      const total = cx - 9;
      lg.attr('transform', `translate(${(left + right) / 2 - total / 2},0)`);
    });
  }, []);

  return <svg ref={svgRef} width={W} height={H} style={{ position: 'absolute', left: 0, top: 0 }}></svg>;
};

export default App;
